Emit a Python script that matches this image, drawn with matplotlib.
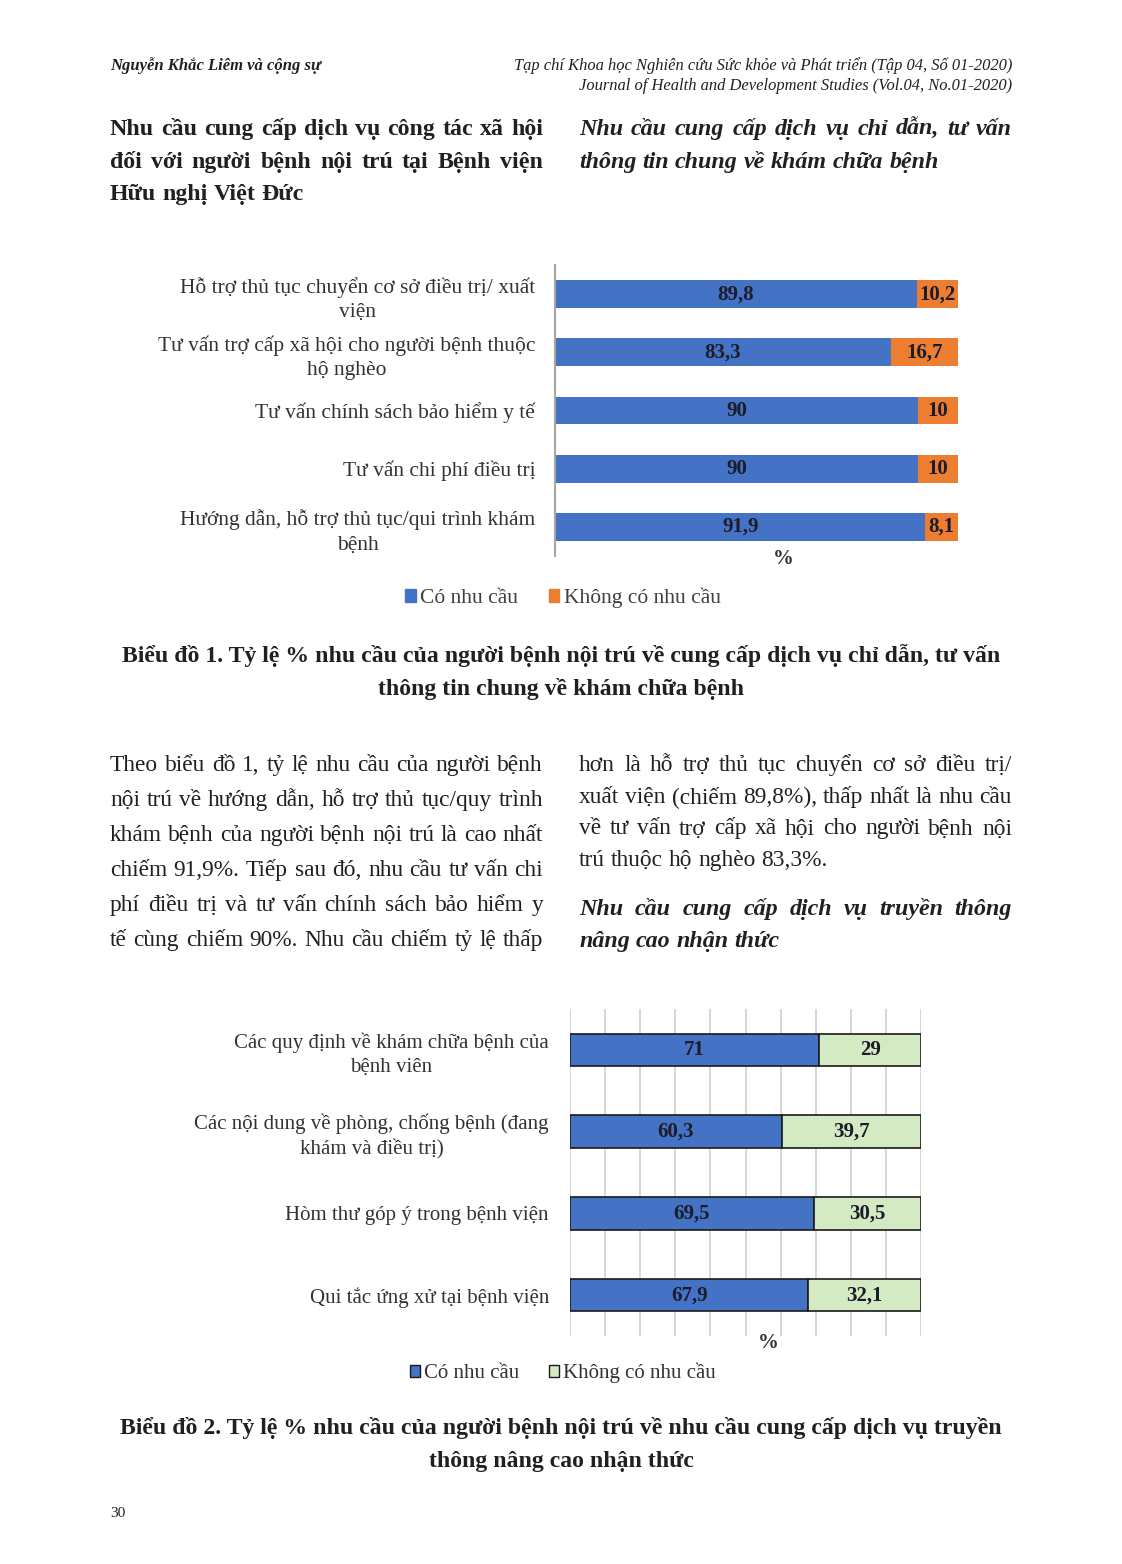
"""
Journal page with two stacked bar charts (Biểu đồ 1 and Biểu đồ 2).
"""

import matplotlib
matplotlib.use("Agg")
import matplotlib.pyplot as plt
from matplotlib.patches import Patch

W, H = 1122, 1564
SERIF = "Liberation Serif"

# Biểu đồ 1
needs1 = [
    "Hỗ trợ thủ tục chuyển cơ sở điều trị/ xuất\nviện",
    "Tư vấn trợ cấp xã hội cho người bệnh thuộc\nhộ nghèo",
    "Tư vấn chính sách bảo hiểm y tế",
    "Tư vấn chi phí điều trị",
    "Hướng dẫn, hỗ trợ thủ tục/qui trình khám\nbệnh",
]
yes1 = [89.8, 83.3, 90, 90, 91.9]
no1 = [10.2, 16.7, 10, 10, 8.1]

# Biểu đồ 2
needs2 = [
    "Các quy định về khám chữa bệnh của\nbệnh viên",
    "Các nội dung về phòng, chống bệnh (đang\nkhám và điều trị)",
    "Hòm thư góp ý trong bệnh viện",
    "Qui tắc ứng xử tại bệnh viện",
]
yes2 = [71, 60.3, 69.5, 67.9]
no2 = [29, 39.7, 30.5, 32.1]

series_names = ["Có nhu cầu", "Không có nhu cầu"]

BLUE = "#4472C4"
ORANGE = "#ED7D31"
GREEN = "#D4EAC2"


def fx(x):
    return x / W


def fy(y):
    return 1 - y / H


def fmt(v):
    return f"{v:g}".replace(".", ",")


def line(fig, text, x0, x1, y, justify=True, **kw):
    """Draw one line of words; spread them to fill x0..x1 if justify."""
    r = fig.canvas.get_renderer()
    words = text.split()
    arts = [fig.text(0, fy(y), w, ha="left", va="baseline", **kw) for w in words]
    widths = [a.get_window_extent(r).width for a in arts]
    size = arts[0].get_fontsize() * 100 / 72
    if justify and len(words) > 1:
        gap = ((x1 - x0) - sum(widths)) / (len(words) - 1)
    else:
        gap = 0.25 * size
    x = x0
    for a, w in zip(arts, widths):
        a.set_x(fx(x))
        x += w + gap


fig = plt.figure(figsize=(W / 100, H / 100), dpi=100)
fig.patch.set_facecolor("white")
txt = dict(family=SERIF, color="#231f20")

# page header
fig.text(fx(110), fy(70), "Nguyễn Khắc Liêm và cộng sự", ha="left", va="baseline",
         fontsize=12, fontweight="bold", fontstyle="italic", **txt)
fig.text(fx(1012), fy(70), "Tạp chí Khoa học Nghiên cứu Sức khỏe và Phát triển (Tập 04, Số 01-2020)",
         ha="right", va="baseline", fontsize=11.9, fontstyle="italic", **txt)
fig.text(fx(1012), fy(90), "Journal of Health and Development Studies (Vol.04, No.01-2020)",
         ha="right", va="baseline", fontsize=11.9, fontstyle="italic", **txt)

# section headings
hb = dict(fontsize=17.2, fontweight="bold", **txt)
line(fig, "Nhu cầu cung cấp dịch vụ công tác xã hội", 110, 543, 135, **hb)
line(fig, "đối với người bệnh nội trú tại Bệnh viện", 110, 543, 168, **hb)
line(fig, "Hữu nghị Việt Đức", 110, 543, 200, justify=False, **hb)
hi = dict(fontsize=17.3, fontweight="bold", fontstyle="italic", **txt)
line(fig, "Nhu cầu cung cấp dịch vụ chỉ dẫn, tư vấn", 579, 1012, 135, **hi)
line(fig, "thông tin chung về khám chữa bệnh", 579, 1012, 168, justify=False, **hi)

# ---- chart 1 ----
ax1 = fig.add_axes([fx(555), fy(556), 403 / W, 291 / H])
pos1 = list(range(len(needs1)))
ax1.barh(pos1, yes1, height=0.48, color=BLUE)
ax1.barh(pos1, no1, left=yes1, height=0.48, color=ORANGE)
for p, a, b in zip(pos1, yes1, no1):
    ax1.text(a / 2, p, fmt(a), ha="center", va="center", fontsize=15,
             fontweight="bold", family=SERIF, color="#1c1c2a")
    ax1.text(a + b / 2, p, fmt(b), ha="center", va="center", fontsize=15,
             fontweight="bold", family=SERIF, color="#1c1c2a")
ax1.set_xlim(0, 100)
ax1.set_ylim(len(needs1) - 0.5, -0.5)
ax1.set_yticks(pos1)
ax1.set_yticklabels(needs1, fontsize=15.5, family=SERIF, color="#333333",
                    multialignment="center", linespacing=1.4)
ax1.tick_params(left=False, bottom=False, labelbottom=False, pad=10.7)
for s in ["top", "right", "bottom"]:
    ax1.spines[s].set_visible(False)
ax1.spines["left"].set_color("#a6a6a6")
ax1.spines["left"].set_linewidth(1.5)
ax1.text(0.566, -0.012, "%", transform=ax1.transAxes, ha="center", va="center",
         fontsize=15, fontweight="bold", family=SERIF, color="#333333")
fig.legend(handles=[Patch(color=BLUE), Patch(color=ORANGE)], labels=series_names,
           loc="center", bbox_to_anchor=(fx(563), fy(598)), ncol=2, frameon=False,
           prop=dict(family=SERIF, size=15.5), handlelength=0.5, handleheight=0.5,
           handletextpad=0.2, columnspacing=1.4, labelcolor="#404040")

cap = dict(fontsize=17.1, fontweight="bold", ha="center", va="baseline", **txt)
fig.text(fx(561), fy(662), "Biểu đồ 1. Tỷ lệ % nhu cầu của người bệnh nội trú về cung cấp dịch vụ chỉ dẫn, tư vấn", **cap)
fig.text(fx(561), fy(695), "thông tin chung về khám chữa bệnh", **cap)

# body text
bt = dict(fontsize=16.8, **txt)
left_lines = [
    "Theo biểu đồ 1, tỷ lệ nhu cầu của người bệnh",
    "nội trú về hướng dẫn, hỗ trợ thủ tục/quy trình",
    "khám bệnh của người bệnh nội trú là cao nhất",
    "chiếm 91,9%. Tiếp sau đó, nhu cầu tư vấn chi",
    "phí điều trị và tư vấn chính sách bảo hiểm y",
    "tế cùng chiếm 90%. Nhu cầu chiếm tỷ lệ thấp",
]
for i, t in enumerate(left_lines):
    line(fig, t, 110, 543, 771 + 35 * i, **bt)
right_lines = [
    "hơn là hỗ trợ thủ tục chuyển cơ sở điều trị/",
    "xuất viện (chiếm 89,8%), thấp nhất là nhu cầu",
    "về tư vấn trợ cấp xã hội cho người bệnh nội",
    "trú thuộc hộ nghèo 83,3%.",
]
for i, t in enumerate(right_lines):
    line(fig, t, 579, 1012, 771 + 31.7 * i, justify=i < 3, **bt)
line(fig, "Nhu cầu cung cấp dịch vụ truyền thông", 579, 1012, 915, **hi)
line(fig, "nâng cao nhận thức", 579, 1012, 947, justify=False, **hi)

# ---- chart 2 ----
ax2 = fig.add_axes([fx(570), fy(1336), 351 / W, 327 / H])
pos2 = list(range(len(needs2)))
ax2.barh(pos2, yes2, height=0.4, color=BLUE, edgecolor="#1a1a1a", linewidth=1.2, zorder=3)
ax2.barh(pos2, no2, left=yes2, height=0.4, color=GREEN, edgecolor="#1a1a1a",
         linewidth=1.2, zorder=3)
for p, a, b in zip(pos2, yes2, no2):
    ax2.text(a / 2, p, fmt(a), ha="center", va="center", fontsize=15,
             fontweight="bold", family=SERIF, color="#1c1c2a", zorder=4)
    ax2.text(a + b / 2, p, fmt(b), ha="center", va="center", fontsize=15,
             fontweight="bold", family=SERIF, color="#1c1c2a", zorder=4)
ax2.set_xlim(0, 100)
ax2.set_xticks(range(0, 101, 10))
ax2.set_ylim(len(needs2) - 0.5, -0.5)
ax2.set_yticks(pos2)
ax2.set_yticklabels(needs2, fontsize=15, family=SERIF, color="#333333",
                    multialignment="center", linespacing=1.35)
ax2.tick_params(left=False, bottom=False, labelbottom=False, pad=11.7)
ax2.grid(axis="x", color="#d0d0d0", linewidth=1.2, zorder=0)
for s in ax2.spines.values():
    s.set_visible(False)
ax2.text(0.564, -0.021, "%", transform=ax2.transAxes, ha="center", va="center",
         fontsize=15, fontweight="bold", family=SERIF, color="#333333")
fig.legend(handles=[Patch(facecolor=BLUE, edgecolor="#1a1a1a"),
                    Patch(facecolor=GREEN, edgecolor="#1a1a1a")],
           labels=series_names, loc="center", bbox_to_anchor=(fx(563), fy(1373)),
           ncol=2, frameon=False, prop=dict(family=SERIF, size=15),
           handlelength=0.5, handleheight=0.5, handletextpad=0.2,
           columnspacing=1.4, labelcolor="#333333")

fig.text(fx(561), fy(1434), "Biểu đồ 2. Tỷ lệ % nhu cầu của người bệnh nội trú về nhu cầu cung cấp dịch vụ truyền", **cap)
fig.text(fx(561), fy(1467), "thông nâng cao nhận thức", **cap)

fig.text(fx(110), fy(1517), "30", ha="left", va="baseline", fontsize=11, **txt)

fig.savefig("out.png", dpi=100, facecolor="white")
